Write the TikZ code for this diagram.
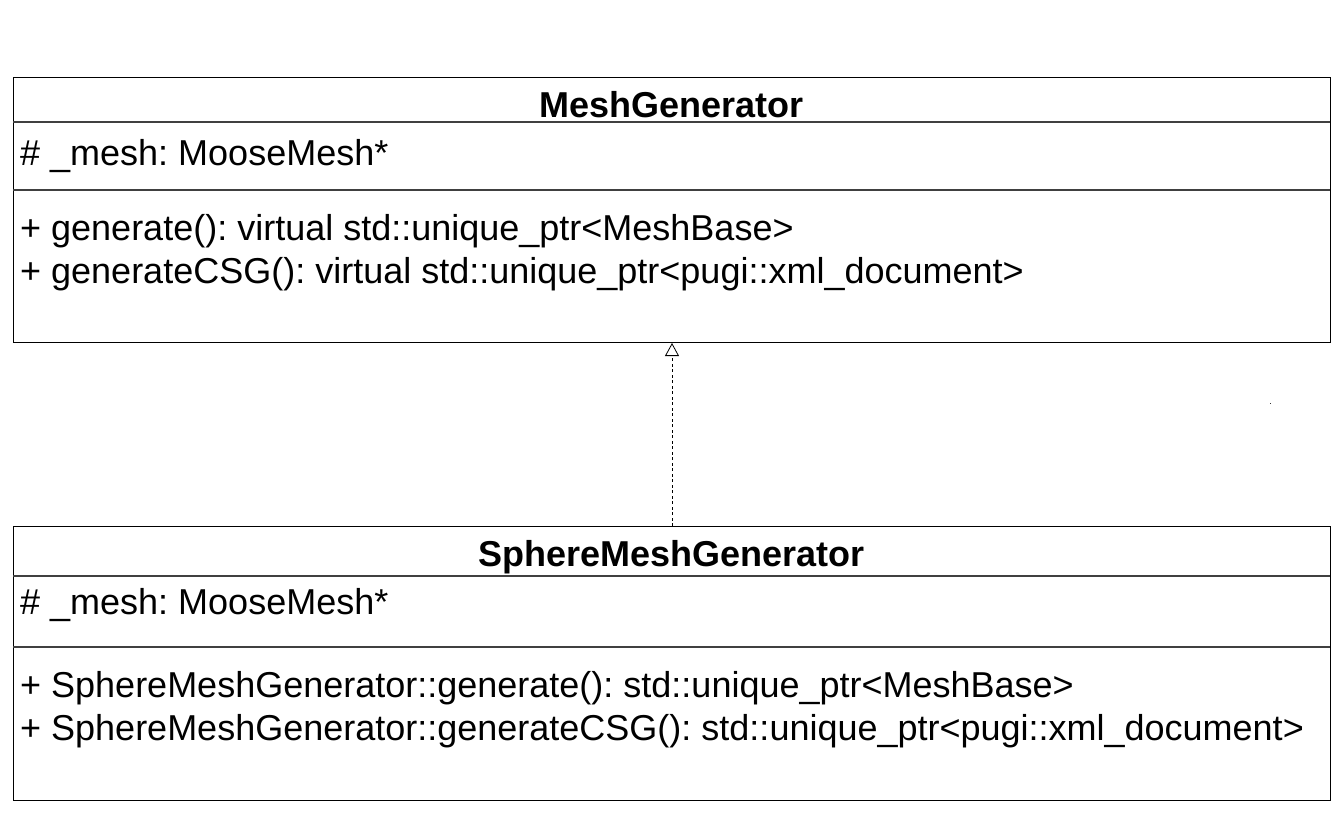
\documentclass[tikz,border=0pt]{standalone}
\usepackage{fontspec}
\setmainfont{Liberation Sans}
\usetikzlibrary{arrows.meta}
\frenchspacing
\begin{document}
\begin{tikzpicture}[x=1pt,y=-1pt,
  classbox/.style={draw=black, line width=1pt, minimum width=1317pt, inner sep=0pt, anchor=north west, fill=white},
  divider/.style={draw=black!75, line width=1.2pt},
  member/.style={anchor=base west, inner sep=0pt, font=\fontsize{36}{43}\selectfont\frenchspacing},
  title/.style={anchor=base, inner sep=0pt, font=\fontsize{36}{43}\selectfont\bfseries},
  realize/.style={draw=black, line width=0.8pt, dash pattern=on 3pt off 2.5pt, -{Triangle[open, length=13pt, width=14pt, line width=0.8pt]}}
]
\useasboundingbox[fill=white] (0,0) rectangle (1342,835);
% MeshGenerator
\node[classbox, minimum height=265pt] (mg) at (13,77) {};
\draw[divider] (13,122) -- (1330,122);
\draw[divider] (13,190) -- (1330,190);
\node[title] (mgt) at (671.5,117.5) {MeshGenerator};
\node[member] (mga) at (20,165.5) {\# \_mesh: MooseMesh*};
\node[member] (mgm1) at (20,240.5) {+ generate(): virtual std::unique\_ptr<MeshBase>};
\node[member] (mgm2) at (20,283.5) {+ generateCSG(): virtual std::unique\_ptr<pugi::xml\_document>};
% SphereMeshGenerator
\node[classbox, minimum height=274pt] (smg) at (13,526) {};
\draw[divider] (13,576) -- (1330,576);
\draw[divider] (13,647) -- (1330,647);
\node[title] (smgt) at (671.5,566.5) {SphereMeshGenerator};
\node[member] (smga) at (20,614) {\# \_mesh: MooseMesh*};
\node[member] (smgm1) at (20,697.5) {+ SphereMeshGenerator::generate(): std::unique\_ptr<MeshBase>};
\node[member] (smgm2) at (20,740.5) {+ SphereMeshGenerator::generateCSG(): std::unique\_ptr<pugi::xml\_document>};
% realization
\coordinate (from) at (672,526);
\coordinate (to) at (672,343);
\draw[realize] (from) -- (to);
% stray dot
\fill[black!80] (1269.5,402.5) rectangle (1271,404);
\end{tikzpicture}
\end{document}
